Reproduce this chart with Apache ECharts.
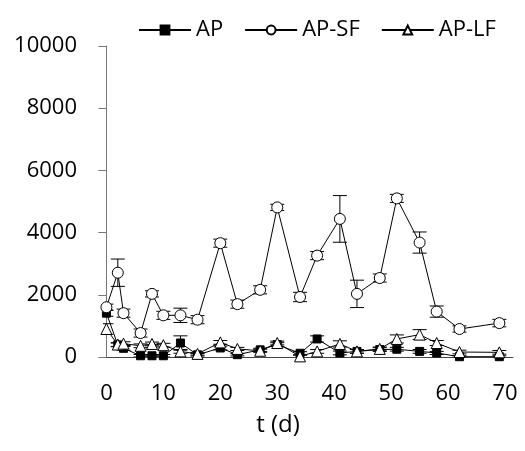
<!DOCTYPE html>
<html>
<head>
<meta charset="utf-8">
<script src="https://cdn.jsdelivr.net/npm/echarts@6/dist/echarts.min.js"></script>
<style>html,body{margin:0;padding:0;background:#fff}#c{width:525px;height:451px}</style>
</head>
<body>
<div id="c"></div>
<script>
const days = [0,2,3,6,8,10,13,16,20,23,27,30,34,37,41,44,48,51,55,58,62,69];
const AP    = [1410,390,280,40,40,40,450,70,290,75,230,400,120,580,130,180,240,250,180,130,10,10];
const AP_SF = [1600,2710,1410,770,2030,1340,1340,1200,3660,1700,2160,4810,1930,3260,4440,2030,2540,5100,3680,1460,900,1090];
const AP_LF = [900,400,430,360,420,380,180,100,470,260,200,450,20,180,420,180,260,580,720,450,160,150];
const AP_err    = [100,60,60,40,40,40,230,40,60,40,50,60,50,100,60,60,60,60,60,50,30,30];
const AP_SF_err = [100,440,130,130,100,130,230,130,130,130,130,100,150,130,750,440,130,130,340,180,100,120];
const AP_LF_err = [170,60,60,60,60,60,60,40,60,50,50,60,40,60,100,60,60,130,160,80,60,60];
const xTickLabels = [0,10,20,30,40,50,60,70];

const FONT = 'Open Sans';
const chart = echarts.init(document.getElementById('c'));

function pairs(vals){ return days.map((d,i)=>[d, vals[i]]); }
function errData(vals, errs){ return days.map((d,i)=>[d, vals[i]-errs[i], vals[i]+errs[i]]); }
function errSeries(vals, errs){
  return {
    type: 'custom',
    z: 1,
    silent: true,
    clip: true,
    data: errData(vals, errs),
    encode: { x: 0, y: [1, 2] },
    renderItem: function(params, api){
      const x = api.value(0);
      const lo = api.coord([x, api.value(1)]);
      const hi = api.coord([x, api.value(2)]);
      const hw = 7;
      const st = { stroke: '#000', lineWidth: 1 };
      return {
        type: 'group',
        children: [
          { type: 'line', shape: { x1: lo[0], y1: lo[1], x2: hi[0], y2: hi[1] }, style: st },
          { type: 'line', shape: { x1: hi[0]-hw, y1: hi[1], x2: hi[0]+hw, y2: hi[1] }, style: st },
          { type: 'line', shape: { x1: lo[0]-hw, y1: lo[1], x2: lo[0]+hw, y2: lo[1] }, style: st }
        ]
      };
    }
  };
}
function lineSeries(name, vals, symbol, size, fill){
  return {
    name: name,
    type: 'line',
    z: 3,
    data: pairs(vals),
    symbol: symbol,
    symbolSize: size,
    showAllSymbol: true,
    lineStyle: { color: '#000', width: 1 },
    itemStyle: { color: fill, borderColor: '#000', borderWidth: 1 },
    emphasis: { disabled: true },
    animation: false
  };
}

chart.setOption({
  animation: false,
  grid: { left: 103, right: 12, top: 46, bottom: 94 },
  legend: {
    data: ['AP', 'AP-SF', 'AP-LF'],
    left: 133,
    top: 14,
    itemWidth: 52,
    itemHeight: 11,
    itemGap: 21,
    textStyle: { fontFamily: FONT, fontSize: 22, color: '#000' }
  },
  xAxis: {
    type: 'value',
    min: -0.6,
    max: 71.4,
    axisLine: { show: true, onZero: false, lineStyle: { color: '#444', width: 1 } },
    axisTick: { show: false },
    splitLine: { show: false },
    axisLabel: { customValues: xTickLabels, margin: 26, fontFamily: FONT, fontSize: 22, color: '#000', formatter: v => String(v) }
  },
  yAxis: {
    type: 'value',
    min: 0,
    max: 10000,
    interval: 2000,
    axisLine: { show: true, lineStyle: { color: '#777', width: 1 } },
    axisTick: { show: true, inside: false, length: 8, lineStyle: { color: '#777' } },
    splitLine: { show: false },
    axisLabel: { margin: 26, fontFamily: FONT, fontSize: 22, color: '#000', formatter: v => String(v) }
  },
  graphic: [{
    type: 'text',
    x: 278, y: 425,
    style: { text: 't (d)', fontFamily: FONT, fontSize: 24, fill: '#000', textAlign: 'center', textVerticalAlign: 'middle' }
  }],
  series: [
    errSeries(AP, AP_err),
    errSeries(AP_SF, AP_SF_err),
    errSeries(AP_LF, AP_LF_err),
    lineSeries('AP', AP, 'rect', 8, '#000'),
    lineSeries('AP-SF', AP_SF, 'circle', 11, '#fff'),
    lineSeries('AP-LF', AP_LF, 'triangle', 11, '#fff')
  ]
});
</script>
</body>
</html>
